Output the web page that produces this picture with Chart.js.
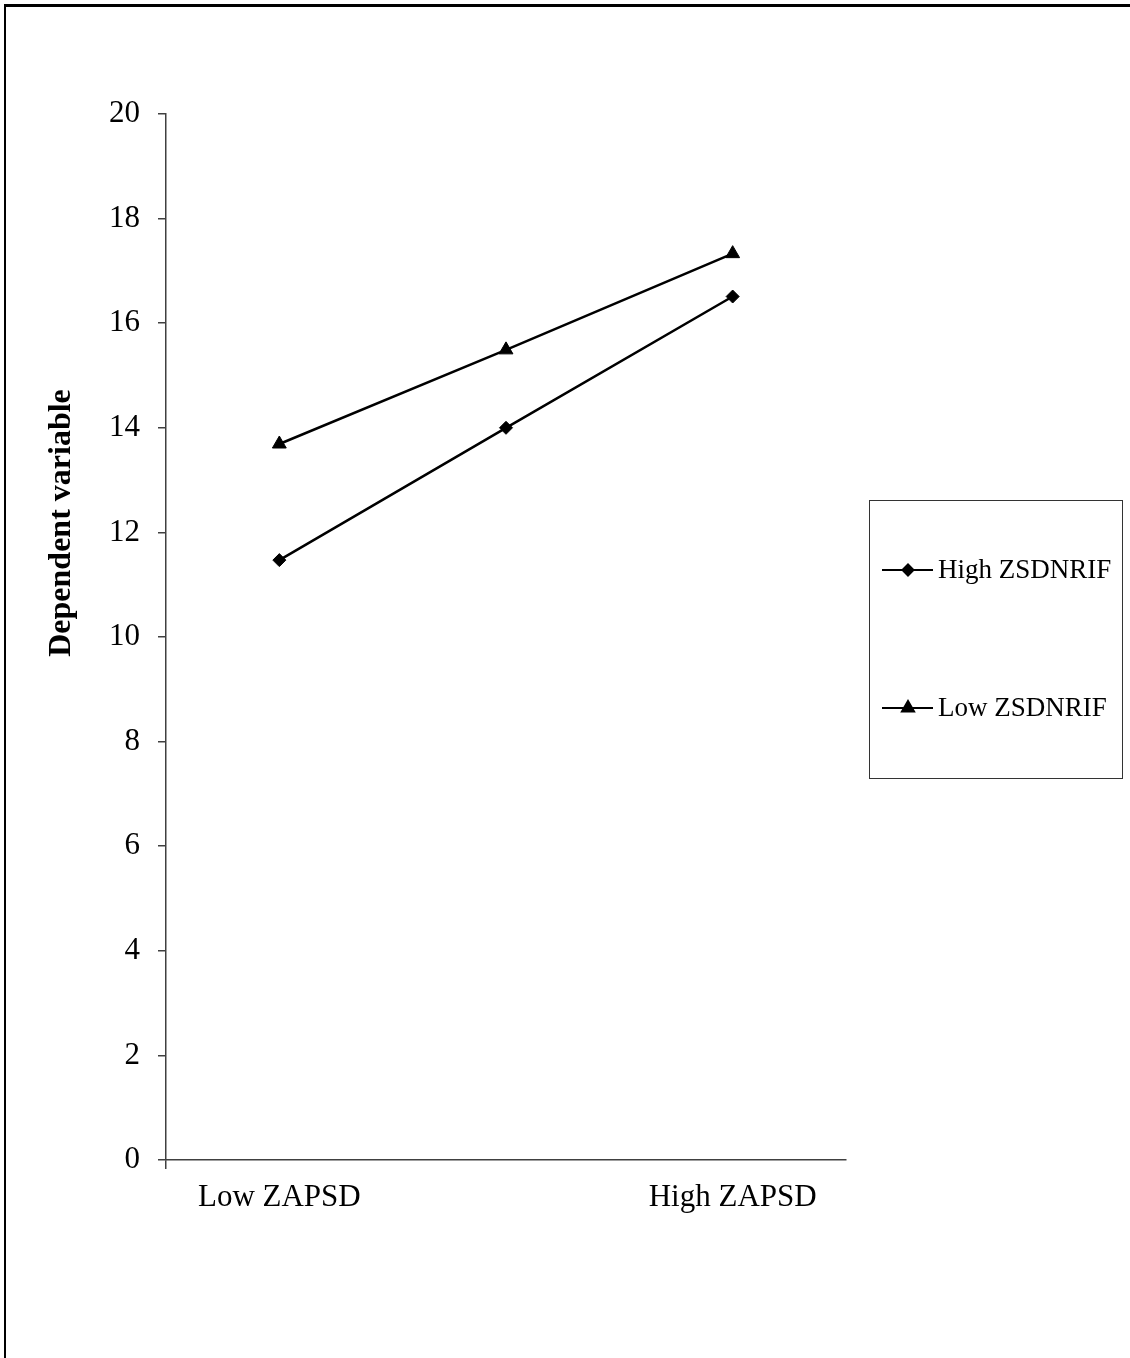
<!DOCTYPE html>
<html>
<head>
<meta charset="utf-8">
<script src="https://cdn.jsdelivr.net/npm/chart.js@4/dist/chart.umd.min.js"></script>
<style>
  html, body { margin: 0; padding: 0; background: #fff; }
  #wrap { position: relative; width: 1130px; height: 1358px; overflow: hidden; }
  #frame { position: absolute; left: 4px; top: 4px; width: 1200px; height: 1400px;
           border-top: 3px solid #000; border-left: 2px solid #000; box-sizing: border-box; }
  #chart { position: absolute; left: 0; top: 0; }
</style>
</head>
<body>
<div id="wrap">
  <canvas id="chart" width="1130" height="1358"></canvas>
  <div id="frame"></div>
</div>
<script>
// ---- data ----
const categories = ["Low ZAPSD", "", "High ZAPSD"];
const highZsdnrif = [11.47, 14.0, 16.51];
const lowZsdnrif = [13.69, 15.49, 17.33];
const seriesNames = ["High ZSDNRIF", "Low ZSDNRIF"];
const yMin = 0, yMax = 20, yStep = 2;
const yTitle = "Dependent variable";

const serif = "'Liberation Serif', 'Times New Roman', serif";
const axisColor = "#404040";

// y title sits above the axis middle in the original, so draw it by hand
const yTitlePlugin = {
  id: "yTitlePlugin",
  afterDraw(chart) {
    const ctx = chart.ctx;
    ctx.save();
    ctx.translate(62, 523);
    ctx.rotate(-Math.PI / 2);
    ctx.fillStyle = "#000";
    ctx.font = "bold 32px " + serif;
    ctx.textAlign = "center";
    ctx.textBaseline = "middle";
    ctx.fillText(yTitle, 0, 0);
    ctx.restore();
  }
};

// legend in a framed box on the right, drawn on the canvas
const boxLegend = {
  id: "boxLegend",
  afterDraw(chart) {
    const ctx = chart.ctx;
    ctx.save();
    ctx.strokeStyle = "#333";
    ctx.lineWidth = 1;
    ctx.strokeRect(869.5, 500.5, 253, 278);
    const rows = [570, 708];
    chart.data.datasets.forEach((ds, i) => {
      const y = rows[i];
      ctx.strokeStyle = "#000";
      ctx.lineWidth = 2;
      ctx.beginPath();
      ctx.moveTo(882, y);
      ctx.lineTo(933, y);
      ctx.stroke();
      ctx.fillStyle = "#000";
      Chart.helpers.drawPoint(ctx, {
        pointStyle: ds.pointStyle,
        radius: ds.pointStyle === "triangle" ? 7 : 5.5,
        borderWidth: 1
      }, 908, y);
      ctx.fillStyle = "#000";
      ctx.font = "27px " + serif;
      ctx.textBaseline = "middle";
      ctx.textAlign = "left";
      ctx.fillText(ds.label, 938, y + 1);
    });
    ctx.restore();
  }
};

const ctx = document.getElementById("chart").getContext("2d");
new Chart(ctx, {
  type: "line",
  data: {
    labels: categories,
    datasets: [
      { label: seriesNames[0], data: highZsdnrif, borderColor: "#000", backgroundColor: "#000",
        borderWidth: 2.5, pointStyle: "rectRot", pointRadius: 6.5, pointBorderWidth: 1 },
      { label: seriesNames[1], data: lowZsdnrif, borderColor: "#000", backgroundColor: "#000",
        borderWidth: 2.5, pointStyle: "triangle", pointRadius: 8, pointBorderWidth: 1 }
    ]
  },
  options: {
    responsive: false,
    animation: false,
    layout: { padding: { left: 0, top: 114, right: 284, bottom: 0 } },
    plugins: { legend: { display: false }, tooltip: { enabled: false } },
    scales: {
      x: {
        offset: true,
        afterFit: (s) => { s.height = 198; },
        border: { display: true, color: axisColor, width: 1.5 },
        grid: {
          offset: true, drawOnChartArea: false, drawTicks: true, tickLength: 9, lineWidth: 1.5,
          color: (c) => (c.index === 0 || c.index === categories.length) ? axisColor : "rgba(0,0,0,0)"
        },
        ticks: { color: "#000", font: { family: serif, size: 31 }, padding: 10, maxRotation: 0, autoSkip: false }
      },
      y: {
        min: yMin, max: yMax,
        afterFit: (s) => { s.width = 166; },
        border: { display: true, color: axisColor, width: 1.5 },
        grid: { drawOnChartArea: false, drawTicks: true, tickLength: 8, color: axisColor, lineWidth: 1.5 },
        ticks: { stepSize: yStep, color: "#000", font: { family: serif, size: 31 }, padding: 18 }
      }
    }
  },
  plugins: [yTitlePlugin, boxLegend]
});
</script>
</body>
</html>
